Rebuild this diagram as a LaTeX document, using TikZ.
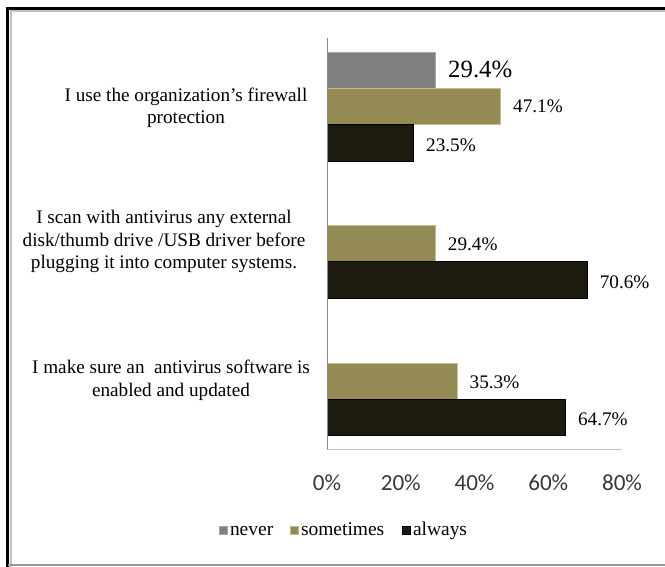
\documentclass[tikz,border=0pt]{standalone}
\usepackage{fontspec}
\setmainfont{Liberation Serif}
\newfontfamily\axisfont{Carlito}
\definecolor{nevergray}{RGB}{128,128,128}
\definecolor{sometimesolive}{RGB}{148,138,84}
\definecolor{alwaysdark}{RGB}{29,27,16}

\tikzset{every picture/.style={line width=0.75pt}}
\tikzset{
  barnever/.style={fill=nevergray, draw={rgb, 255:red, 166; green, 166; blue, 166 }},
  barsometimes/.style={fill=sometimesolive, draw={rgb, 255:red, 196; green, 189; blue, 151 }},
  baralways/.style={fill=alwaysdark, draw=black},
  catlabel/.style={inner sep=0pt, align=center, font=\fontsize{14.4}{16.9}\selectfont},
  vallabel/.style={inner sep=0pt, anchor=base west, font=\fontsize{14.4}{16.9}\selectfont},
  ticklabel/.style={inner sep=0pt, anchor=base, font=\axisfont\fontsize{17.3}{20}\selectfont, text={rgb, 255:red, 56; green, 56; blue, 56 }},
  legendtext/.style={inner sep=0pt, anchor=base west, font=\fontsize{14.6}{17}\selectfont}
}

\begin{document}
\begin{tikzpicture}[x=0.75pt,y=0.75pt,yscale=-1,xscale=1]
\useasboundingbox (0,0) rectangle (665,567);

%Frame
\draw [color={rgb, 255:red, 192; green, 192; blue, 192 }, line width=1.5]  (10.5,567) -- (10.5,11.2) -- (665,11.2) ;
\draw [line width=2]  (7.5,567) -- (7.5,8.7) -- (665,8.7) ;
\draw [color={rgb, 255:red, 150; green, 150; blue, 150 }, line width=1.5]  (7.5,565) -- (665,565) ;

%Shape: Rectangle (firewall)
\draw [barnever]  (327,52.5) rectangle (435.4,88.7) ;
\draw [barsometimes]  (327,88.7) rectangle (500.7,124.9) ;
\draw [baralways]  (327,124.9) rectangle (413.7,161.1) ;
%Shape: Rectangle (scan)
\draw [barsometimes]  (327,225.7) rectangle (435.4,261.9) ;
\draw [baralways]  (327,261.9) rectangle (587.3,298.1) ;
%Shape: Rectangle (antivirus)
\draw [barsometimes]  (327,363) rectangle (457.2,399.2) ;
\draw [baralways]  (327,399.2) rectangle (565.6,435.4) ;

%Axes
\draw [color={rgb, 255:red, 134; green, 134; blue, 134 }]  (327,38) -- (327,449) ;
\draw [color={rgb, 255:red, 191; green, 191; blue, 191 }]  (327,449) -- (622,449) ;

% Text Node
\draw (186,108) node [catlabel] (catfire) {I use the organization’s firewall\\protection};
% Text Node
\draw (164,241.5) node [catlabel] (catscan) {I scan with antivirus any external\\disk/thumb drive /USB driver before\\plugging it into computer systems.};
% Text Node
\draw (171,380.5) node [catlabel] (catav) {I make sure an\ \ antivirus software is\\enabled and updated};

% Text Node
\draw (447.7,77.4) node [vallabel, font=\fontsize{18.6}{22}\selectfont] (vfnever) {29.4\%};
% Text Node
\draw (512.7,113) node [vallabel] (vfsome) {47.1\%};
% Text Node
\draw (425.7,151.5) node [vallabel] (vfalways) {23.5\%};
% Text Node
\draw (447.4,250.5) node [vallabel] (vssome) {29.4\%};
% Text Node
\draw (599.3,288) node [vallabel] (vsalways) {70.6\%};
% Text Node
\draw (469.2,388) node [vallabel] (vasome) {35.3\%};
% Text Node
\draw (577.6,425) node [vallabel] (vaalways) {64.7\%};

% Text Node
\draw (327,490) node [ticklabel] (t0) {0\%};
% Text Node
\draw (400.75,490) node [ticklabel] (t20) {20\%};
% Text Node
\draw (474.5,490) node [ticklabel] (t40) {40\%};
% Text Node
\draw (548.25,490) node [ticklabel] (t60) {60\%};
% Text Node
\draw (622,490) node [ticklabel] (t80) {80\%};

%Legend
\draw [fill=nevergray, draw={rgb, 255:red, 166; green, 166; blue, 166 }]  (219,526) rectangle (227,534) ;
\draw (229.5,535) node [legendtext] (lgnever) {never};
\draw [fill=sometimesolive, draw={rgb, 255:red, 196; green, 189; blue, 151 }]  (290,526) rectangle (298,534) ;
\draw (300.5,535) node [legendtext] (lgsome) {sometimes};
\draw [fill=alwaysdark, draw=black]  (402,526) rectangle (410.5,534) ;
\draw (412.5,535) node [legendtext] (lgalways) {always};
\end{tikzpicture}
\end{document}
